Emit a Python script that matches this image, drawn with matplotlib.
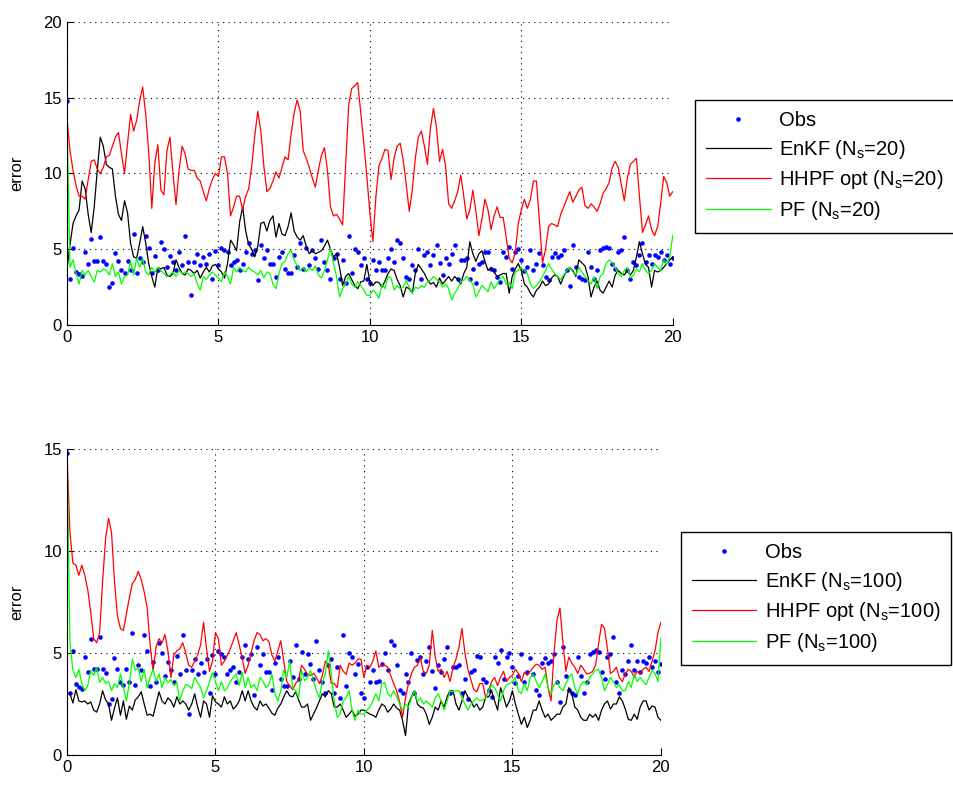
import numpy as np
import matplotlib
matplotlib.use("Agg")
import matplotlib.pyplot as plt

plt.rcParams['font.family'] = ['Liberation Sans', 'DejaVu Sans']
plt.rcParams['mathtext.default'] = 'regular'

# observations (shared by both panels), one every 0.1 time units
obs = [14.8,
       3.05, 5.1, 3.5, 3.35, 3.25, 4.8, 4.05, 5.7, 4.2, 4.2,
       5.8, 4.2, 4.0, 2.5, 2.75, 4.75, 4.2, 3.6, 3.45, 4.2,
       3.6, 6.0, 3.45, 4.4, 4.15, 5.9, 5.1, 3.4, 4.55, 3.6,
       5.5, 5.0, 3.85, 4.55, 4.15, 3.6, 4.85, 3.95, 5.9, 4.15,
       2.0, 4.15, 4.7, 3.95, 4.5, 4.05, 4.7, 3.05, 4.9, 3.95,
       5.1, 4.95, 4.8, 3.95, 4.15, 4.3, 3.6, 4.05, 4.8, 5.4,
       4.7, 4.95, 2.95, 5.3, 4.4, 4.95, 4.05, 4.05, 3.2, 4.5,
       4.8, 3.7, 3.4, 3.4, 4.6, 3.8, 5.4, 3.7, 5.05, 3.95,
       4.95, 4.45, 3.7, 5.6, 4.15, 3.6, 3.05, 4.4, 4.7, 3.05,
       4.3, 2.8, 5.9, 3.4, 5.0, 4.8, 3.95, 4.45, 3.05, 2.8,
       4.3, 3.6,
       4.15, 3.6, 3.65, 4.45, 5.0, 4.15, 5.6, 5.4, 4.4, 3.2,
       3.05, 3.95, 3.6, 5.0, 3.05, 4.65, 4.8, 3.95, 4.6, 5.3,
       4.1, 3.3, 4.4, 4.05, 4.7, 5.3, 3.05, 4.3, 4.3, 4.4,
       3.05, 3.7, 2.75, 4.05, 4.15, 4.85, 4.8, 3.7, 3.6, 3.2,
       2.85, 4.8, 4.5, 5.15, 3.7, 4.8, 5.0, 4.3, 3.55, 3.85,
       4.95, 3.6, 4.05, 4.75, 3.95, 3.2, 2.95, 4.5, 4.75, 4.5,
       4.6, 4.95, 3.6, 2.6, 5.3, 3.85, 3.2, 3.05, 2.95, 4.8,
       3.85, 3.05, 3.6, 4.95, 5.05, 5.15, 5.05, 4.05, 3.7, 4.8,
       4.95, 5.8, 3.6, 3.05, 4.15, 3.95, 4.6, 5.4, 4.15, 4.6,
       4.05, 4.6, 4.5, 4.8, 4.3, 4.6, 4.05, 4.45]

# Ns = 20
enkf_20 = [3.7, 5.3, 6.7, 7.2, 7.6, 9.5, 9.0, 7.3, 6.1, 7.8,
           10.2, 12.4, 11.8, 10.6, 10.4, 10.3, 8.5, 7.3, 6.9, 8.2,
           7.4, 5.4, 4.5, 4.4, 5.4, 6.5, 5.4, 4.05, 3.2, 2.5,
           3.8, 3.7, 3.8, 3.3, 3.2, 3.4, 4.3, 3.8, 3.4, 3.3,
           3.7, 3.6, 3.4, 3.6, 3.1, 3.5, 3.8, 3.5, 3.9, 4.0,
           3.7, 3.5, 3.1, 4.05, 5.6, 5.3, 4.9, 6.8, 7.8, 6.2,
           5.3, 5.0, 4.5, 5.2, 6.7, 6.8, 6.2, 6.9, 7.2, 5.8,
           6.7, 6.0, 5.9, 6.5, 7.4, 6.2, 5.8, 5.6, 5.9, 5.2,
           4.7, 4.9, 4.7, 4.8, 4.9, 5.2, 5.6, 5.0, 4.5, 4.7,
           3.8, 2.6, 3.2, 3.4, 3.0, 2.6, 2.4, 2.85, 2.9, 4.0,
           2.8, 2.6, 2.85, 2.8, 2.5, 2.9, 3.4, 3.7, 3.6, 3.0,
           2.6, 1.85, 2.5, 2.4, 2.1, 3.4, 4.0, 3.7, 3.4, 3.0,
           2.7, 2.8, 2.5, 3.1, 2.7, 2.95, 3.2, 2.9, 3.2, 3.0,
           2.7, 3.4, 3.8, 5.5, 4.7, 4.2, 4.7, 4.9, 4.2, 3.6,
           3.8, 3.5, 3.2, 3.3, 3.4, 3.4, 2.1, 3.2, 3.7, 4.05,
           3.6, 2.7, 2.5, 2.1, 1.85, 2.3, 2.5, 2.9, 2.6, 2.7,
           3.1, 3.3, 3.2, 2.7, 3.2, 3.6, 3.8, 3.6, 3.2, 4.3,
           4.1, 3.9, 3.2, 1.85, 2.5, 2.9, 2.3, 2.1, 2.5, 2.9,
           2.5, 3.3, 3.6, 3.4, 3.3, 3.6, 3.3, 3.6, 4.5, 5.5,
           4.7, 4.0, 3.8, 2.5, 3.6, 3.5, 3.6, 3.8, 4.05, 4.3,
           4.5]

hhpf_20 = [13.6, 11.5, 10.2, 9.2, 8.5, 8.5, 8.3, 9.6, 10.8, 10.9,
           10.3, 10.0, 10.4, 11.1, 11.2, 11.8, 12.4, 12.7, 11.3, 10.0,
           12.0, 13.9, 12.8, 13.5, 14.8, 15.7, 13.9, 11.4, 7.7, 10.7,
           11.9, 8.9, 8.6, 11.5, 12.4, 10.0, 7.95, 10.2, 11.8, 11.3,
           10.3, 10.2, 10.2, 9.7, 9.5, 8.8, 8.2, 9.0, 9.6, 10.0,
           9.8, 11.1, 11.1, 10.0, 7.2, 7.8, 8.5, 8.5, 7.6, 8.5,
           9.0, 10.5, 12.5, 14.1, 12.8, 10.5, 8.8, 9.0, 9.5, 10.1,
           9.7, 10.4, 11.1, 10.9, 12.6, 14.0, 14.85, 14.1, 11.5, 11.0,
           10.4, 9.7, 9.1, 10.2, 11.2, 11.7, 10.2, 7.8, 7.2, 7.3,
           7.0, 6.6, 10.6, 14.5, 15.6, 15.8, 16.0, 14.0, 12.0, 9.8,
           7.4, 5.5, 8.5, 10.5, 11.0, 11.6, 11.5, 9.6, 11.0, 11.8,
           12.0, 10.9, 9.3, 7.5, 8.9, 11.0, 12.4, 12.8, 11.8, 10.6,
           13.0, 14.3, 13.0, 10.8, 11.6, 10.5, 8.0, 7.7, 8.2, 8.8,
           9.9, 8.5, 7.0, 7.6, 8.9, 7.5, 5.9, 7.0, 8.3, 7.6,
           6.3, 7.2, 7.8, 7.1, 7.1, 5.8, 4.4, 4.1, 4.8, 6.7,
           7.6, 8.3, 7.7, 8.3, 9.5, 9.5, 6.8, 4.1, 5.0, 6.5,
           6.7, 6.6, 6.5, 7.3, 7.8, 8.3, 8.8, 8.1, 8.5, 8.9,
           9.1, 7.9, 7.7, 8.0, 7.8, 7.5, 8.0, 8.7, 9.0, 9.4,
           10.4, 10.8, 10.4, 9.3, 8.2, 9.7, 10.6, 10.8, 11.0, 8.5,
           6.1, 6.6, 7.2, 6.3, 5.9, 6.5, 8.0, 9.8, 9.4, 8.5,
           8.8]

pf_20 = [13.7, 3.8, 4.3, 3.4, 2.7, 3.6, 3.3, 3.6, 3.2, 2.85,
         3.6, 3.5, 3.7, 3.6, 3.3, 4.05, 3.2, 3.5, 2.7, 3.2,
         3.3, 4.2, 3.3, 4.4, 3.8, 4.4, 3.5, 3.3, 3.8, 3.5,
         3.8, 3.6, 3.4, 3.2, 3.3, 3.5, 3.2, 3.6, 3.4, 3.5,
         3.4, 3.2, 3.4, 2.7, 2.3, 3.2, 3.0, 3.3, 3.5, 3.3,
         3.1, 2.85, 3.5, 3.2, 2.7, 3.8, 3.5, 3.8, 3.6, 3.5,
         3.8, 3.6, 3.5, 3.3, 3.6, 3.1, 3.5, 3.4, 2.7, 2.4,
         3.4, 4.05, 4.2, 4.7, 4.95, 4.3, 3.9, 3.6, 3.8, 3.5,
         3.8, 3.6, 3.9, 3.3, 3.1, 3.6, 4.3, 5.05, 4.05, 3.2,
         1.85, 2.4, 2.7, 3.2, 2.7, 2.5, 2.85, 2.6, 2.3, 1.95,
         1.95, 2.3, 2.1, 1.75, 2.7, 2.4, 3.2, 3.1, 2.3, 2.6,
         2.4, 2.5, 2.95, 2.5, 2.1, 2.5, 2.4, 2.6, 2.5, 2.85,
         2.95, 3.2, 3.0, 2.85, 2.5, 2.7, 2.4, 1.65, 2.1, 2.4,
         2.85, 2.95, 3.2, 2.95, 2.7, 1.85, 2.2, 2.6, 2.4, 2.2,
         2.85, 2.4, 2.7, 3.05, 3.2, 2.7, 2.8, 2.4, 3.5, 3.6,
         3.8, 3.6, 3.4, 2.7, 2.4, 2.6, 2.85, 3.2, 3.6, 4.05,
         3.7, 3.4, 3.2, 3.0, 3.3, 3.6, 3.8, 3.5, 3.3, 3.8,
         3.5, 3.2, 2.95, 2.7, 3.2, 2.4, 3.2, 3.4, 4.05, 4.3,
         4.1, 3.8, 3.4, 3.2, 3.6, 3.8, 3.1, 3.3, 3.7, 3.5,
         4.05, 3.6, 3.4, 3.6, 4.05, 3.8, 3.6, 4.3, 4.0, 4.5,
         5.9]

# Ns = 100
enkf_100 = [3.0, 3.0, 2.55, 3.2, 2.65, 2.6, 2.65, 2.5, 2.6, 2.2,
            2.1, 2.5, 3.15, 2.7, 2.5, 1.7, 2.3, 2.8, 1.95, 2.65,
            1.75, 2.4, 2.2, 2.7, 2.85, 3.1, 2.5, 1.95, 2.0, 1.9,
            2.5, 3.1, 2.65, 2.5, 2.8, 2.65, 2.35, 2.85, 2.5, 2.65,
            2.5, 2.2, 2.5, 3.0, 2.35, 1.85, 2.65, 2.5, 1.85, 2.9,
            2.6, 2.5, 2.35, 2.85, 2.5, 2.65, 2.25, 2.4, 2.65, 3.15,
            2.65, 3.15, 2.65, 2.35, 2.2, 2.65, 2.4, 2.5, 2.3, 2.05,
            1.95, 2.3, 2.5, 2.85, 3.15, 2.9, 2.85, 3.1, 2.7, 2.35,
            2.35, 2.5, 1.7, 2.0, 2.3, 2.65, 3.0, 2.85, 3.15, 3.0,
            2.35, 2.35, 2.5, 2.2, 1.85, 2.0, 2.2, 1.9, 2.0, 2.2,
            2.2, 2.1, 2.0, 1.95, 1.85, 2.2, 2.5, 2.4, 2.1, 2.25,
            2.5, 2.3, 2.2, 1.7, 0.95, 2.5, 2.85, 3.15, 2.5, 2.35,
            2.3, 2.0, 1.5, 1.85, 2.35, 2.2, 2.65, 2.35, 2.85, 3.15,
            3.15, 2.5, 2.2, 2.65, 3.15, 2.85, 2.65, 2.35, 2.5, 2.2,
            2.35, 2.85, 2.85, 3.15, 2.65, 2.2, 3.3, 2.85, 2.35, 2.65,
            3.15, 2.5, 2.0, 1.5, 1.85, 1.35, 1.7, 2.2, 2.2, 2.65,
            2.2, 1.85, 2.0, 1.7, 1.85, 2.0, 2.0, 2.35, 2.5, 3.3,
            3.0, 2.35, 2.2, 1.85, 1.7, 1.7, 2.0, 1.85, 2.0, 1.7,
            2.2, 2.5, 2.65, 2.25, 2.5, 2.5, 2.85, 2.65, 2.25, 1.75,
            1.7, 2.0, 1.75, 2.35, 2.65, 2.65, 2.2, 2.4, 2.35, 1.85,
            1.7]

hhpf_100 = [14.76, 10.9, 9.4, 9.3, 8.8, 9.3, 8.8, 8.1, 7.0, 5.7,
            5.5, 6.0, 8.5, 10.6, 11.6, 10.9, 8.5, 6.8, 6.2, 6.1,
            6.9, 7.7, 8.4, 8.6, 9.0, 8.6, 8.0, 7.2, 5.4, 4.1,
            5.3, 5.7, 5.5, 5.9, 5.1, 3.8, 4.9, 5.1, 5.2, 5.5,
            5.0, 4.4, 4.3, 4.6, 4.9, 5.4, 6.5, 5.2, 4.1, 4.6,
            6.0, 5.7, 4.4, 4.6, 4.9, 5.2, 5.6, 6.0, 5.4, 4.75,
            4.0, 4.4, 5.0, 5.6, 6.0, 5.9, 5.6, 5.7, 5.55, 4.9,
            4.6, 5.1, 5.6, 4.6, 3.6, 3.4, 3.2, 3.5, 3.7, 4.4,
            4.2, 3.95, 3.9, 4.0, 3.8, 3.5, 3.9, 4.6, 4.4, 3.5,
            3.5, 3.3, 4.4, 4.1, 3.95, 4.5, 4.4, 4.5, 4.7, 4.7,
            3.8, 4.4, 4.3, 4.6, 5.1, 4.3, 4.4, 4.4, 4.3, 3.9,
            3.5, 3.15, 2.6, 1.85, 2.8, 3.5, 4.0, 4.3, 4.4, 4.75,
            4.1, 4.0, 4.4, 6.1, 4.8, 4.1, 4.2, 3.8, 4.1, 3.6,
            4.3, 4.7, 5.3, 6.2, 5.0, 4.2, 3.7, 3.2, 3.1, 3.5,
            3.5, 2.8, 3.2, 3.6, 3.8, 3.4, 3.8, 4.1, 3.6, 3.8,
            3.9, 4.2, 4.0, 3.6, 4.05, 3.9, 4.1, 4.3, 4.45, 4.4,
            4.2, 4.3, 3.3, 2.65, 5.0, 6.6, 7.2, 5.5, 4.1, 4.8,
            4.5, 4.3, 4.0, 4.4, 4.2, 3.97, 4.0, 4.1, 4.4, 5.45,
            6.4, 6.2, 5.2, 4.0, 4.1, 4.3, 3.8, 3.6, 3.97, 4.2,
            4.1, 3.8, 4.1, 3.97, 4.2, 4.3, 4.1, 4.6, 5.1, 6.0,
            6.5]

pf_100 = [14.8, 5.5, 4.15, 3.8, 4.2, 3.5, 3.15, 3.4, 4.15, 3.9,
          4.3, 3.55, 3.8, 3.5, 3.6, 3.15, 3.5, 3.3, 3.97, 3.3,
          2.65, 3.5, 4.7, 4.15, 4.3, 3.6, 4.2, 3.3, 3.8, 4.2,
          3.6, 3.97, 3.3, 3.8, 3.55, 3.7, 3.4, 3.55, 2.65, 3.15,
          3.45, 3.4, 3.25, 3.8, 3.55, 3.3, 2.8, 3.15, 3.6, 4.05,
          3.6, 3.15, 3.6, 3.15, 3.3, 3.6, 3.8, 3.97, 3.4, 4.05,
          3.3, 3.8, 3.3, 3.45, 3.15, 3.8, 3.6, 3.3, 3.45, 3.97,
          3.0, 2.65, 3.15, 4.15, 3.8, 4.6, 3.3, 3.15, 2.8, 4.15,
          3.65, 3.8, 4.15, 3.65, 3.15, 2.8, 3.6, 3.97, 5.1, 3.97,
          2.65, 1.85, 2.0, 2.65, 2.8, 3.15, 2.2, 1.7, 2.2, 2.0,
          2.0, 2.2, 2.35, 2.65, 3.0, 2.65, 3.5, 3.55, 3.0, 2.85,
          3.15, 2.85, 2.5, 2.2, 2.5, 2.35, 2.8, 3.15, 2.6, 2.8,
          2.5, 2.65, 2.5, 2.35, 2.8, 3.0, 2.65, 2.2, 2.65, 3.15,
          3.1, 3.15, 3.15, 2.8, 2.5, 2.2, 2.5, 2.65, 2.8, 2.65,
          2.7, 2.8, 3.15, 3.45, 3.3, 3.0, 2.65, 3.15, 3.45, 3.5,
          3.6, 3.8, 3.15, 3.0, 3.5, 3.15, 3.8, 3.97, 3.6, 3.3,
          3.6, 3.97, 3.3, 3.0, 3.45, 3.6, 3.3, 3.15, 3.5, 3.8,
          3.97, 3.3, 3.0, 3.45, 3.6, 3.45, 3.8, 3.97, 4.15, 4.2,
          3.8, 3.15, 3.45, 3.8, 3.6, 3.3, 3.45, 3.15, 3.15, 3.6,
          3.3, 3.97, 3.6, 3.8, 3.6, 3.45, 3.8, 4.15, 4.0, 3.6,
          5.75]

series = [obs, enkf_20, hhpf_20, pf_20, enkf_100, hhpf_100, pf_100]
assert all(len(s) == 201 for s in series), [len(s) for s in series]
t = np.arange(201) * 0.1

fig = plt.figure(figsize=(9.54, 7.85), dpi=100)
ax1 = fig.add_axes([0.0702, 0.586, 0.635, 0.386])
ax2 = fig.add_axes([0.0702, 0.0382, 0.6226, 0.390])

panels = [
    (ax1, enkf_20, hhpf_20, pf_20, '20', (0, 20), [0, 5, 10, 15, 20], (0.7285, 0.8726)),
    (ax2, enkf_100, hhpf_100, pf_100, '100', (0, 15), [0, 5, 10, 15], (0.7138, 0.3223)),
]

for ax, enkf, hhpf, pf, ns, ylim, yticks, anchor in panels:
    ax.plot(t, obs, 'o', color='#0000ff', markersize=3.3, markeredgewidth=0,
            label='Obs')
    ax.plot(t, enkf, color='black', lw=0.9, label='EnKF (N$_s$=%s)' % ns)
    ax.plot(t, hhpf, color='#ff0000', lw=0.9, label='HHPF opt (N$_s$=%s)' % ns)
    ax.plot(t, pf, color='#00ff00', lw=0.9, label='PF (N$_s$=%s)' % ns)

    ax.set_xlim(0, 20)
    ax.set_ylim(*ylim)
    ax.set_xticks([0, 5, 10, 15, 20])
    ax.set_yticks(yticks)
    ax.set_ylabel('error', fontsize=12, labelpad=14)
    ax.tick_params(direction='in', labelsize=12, length=5, width=0.8)
    ax.spines['top'].set_visible(False)
    ax.spines['right'].set_visible(False)
    ax.grid(True, linestyle=(0, (1, 4)), color='black', lw=0.8)
    ax.set_axisbelow(True)

    leg = ax.legend(loc='upper left', bbox_to_anchor=anchor,
                    bbox_transform=fig.transFigure, fontsize=14.5,
                    handlelength=3.2, numpoints=1, fancybox=False,
                    edgecolor='black', framealpha=1, borderaxespad=0,
                    labelspacing=0.38, handletextpad=0.4, borderpad=0.55)
    leg.get_frame().set_linewidth(1.0)

fig.savefig('out.png', dpi=100)
